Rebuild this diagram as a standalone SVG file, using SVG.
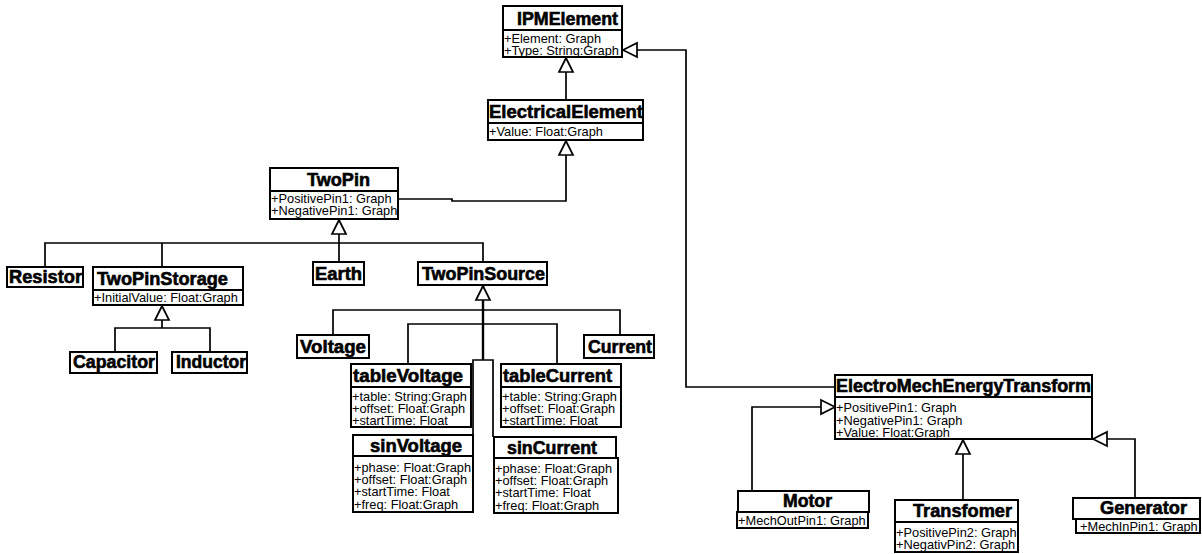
<svg xmlns="http://www.w3.org/2000/svg" width="1202" height="554" viewBox="0 0 1202 554">
  <style>
    .box { fill: #fff; stroke: #000; stroke-width: 2; }
    .hd { font-family: "Liberation Sans", Arial, sans-serif; font-weight: bold; font-size: 18px; fill: #000; stroke: #000; stroke-width: 0.6; }
    .at { font-family: "Liberation Sans", Arial, sans-serif; font-size: 12.8px; fill: #000; }
    .ln { fill: none; stroke: #000; stroke-width: 1.7; }
  </style>
  <defs>
    <!-- hollow generalization triangle -->
    <marker id="gen" viewBox="0 0 15 16" refX="15" refY="8" markerWidth="15" markerHeight="16" markerUnits="userSpaceOnUse" orient="auto" overflow="visible">
      <path d="M1,1 L15,8 L1,15 Z" fill="#fff" stroke="#000" stroke-width="1.7"/>
    </marker>
  </defs>
  <rect width="1202" height="554" fill="#fff"/>

  <g id="connectors">
    <!-- ElectricalElement -> IPMElement -->
    <path class="ln" d="M566,100 V58" marker-end="url(#gen)"/>
    <!-- TwoPin -> ElectricalElement -->
    <path class="ln" d="M398,199 H452 V201 H566 V141" marker-end="url(#gen)"/>
    <!-- TwoPin children -->
    <path class="ln" d="M339,262 V220" marker-end="url(#gen)"/>
    <path class="ln" d="M45,267 V243 H483 V262 M162,243 V267"/>
    <!-- TwoPinStorage children -->
    <path class="ln" d="M162,328 V306" marker-end="url(#gen)"/>
    <path class="ln" d="M115,352 V328 H210 V352"/>
    <!-- TwoPinSource children -->
    <path class="ln" d="M483,360 V286" marker-end="url(#gen)" style="stroke-width:2.4"/>
    <path class="ln" d="M333,335 V310 H620 V335"/>
    <path class="ln" d="M408,364 V324 H557 V364"/>
    <path class="ln" d="M473,435 V360 H493 V437"/>
    <!-- ElectroMechEnergyTransform -> IPMElement -->
    <path class="ln" d="M835,387 H686 V50 H623" marker-end="url(#gen)"/>
    <!-- Motor, Transfomer, Generator -> ElectroMechEnergyTransform -->
    <path class="ln" d="M752,491 V407 H835" marker-end="url(#gen)"/>
    <path class="ln" d="M963,500 V440" marker-end="url(#gen)"/>
    <path class="ln" d="M1135,498 V439 H1093" marker-end="url(#gen)"/>
  </g>

  <g id="IPMElement">
    <rect class="box" x="503" y="6" width="119" height="24"/>
    <rect class="box" x="503" y="30" width="119" height="27"/>
    <text class="hd" x="517" y="25" textLength="101" lengthAdjust="spacingAndGlyphs">IPMElement</text>
    <text class="at" x="504" y="42.5">+Element: Graph</text>
    <text class="at" x="504" y="54.5">+Type: String:Graph</text>
  </g>

  <g id="ElectricalElement">
    <rect class="box" x="488" y="100" width="155" height="23"/>
    <rect class="box" x="488" y="123" width="155" height="17"/>
    <text class="hd" x="489" y="118" textLength="154" lengthAdjust="spacingAndGlyphs">ElectricalElement</text>
    <text class="at" x="489" y="136">+Value: Float:Graph</text>
  </g>

  <g id="TwoPin">
    <rect class="box" x="270" y="168" width="128" height="23"/>
    <rect class="box" x="270" y="191" width="128" height="28"/>
    <text class="hd" x="307" y="186" textLength="63" lengthAdjust="spacingAndGlyphs">TwoPin</text>
    <text class="at" x="271" y="202.5">+PositivePin1: Graph</text>
    <text class="at" x="271" y="215">+NegativePin1: Graph</text>
  </g>

  <g id="Resistor">
    <rect class="box" x="7" y="267" width="76" height="20"/>
    <text class="hd" x="9" y="283" textLength="73" lengthAdjust="spacingAndGlyphs">Resistor</text>
  </g>

  <g id="TwoPinStorage">
    <rect class="box" x="93" y="267" width="150" height="23"/>
    <rect class="box" x="93" y="290" width="150" height="15"/>
    <text class="hd" x="97" y="285" textLength="131" lengthAdjust="spacingAndGlyphs">TwoPinStorage</text>
    <text class="at" x="94" y="302">+InitialValue: Float:Graph</text>
  </g>

  <g id="Capacitor">
    <rect class="box" x="70" y="352" width="87" height="21"/>
    <text class="hd" x="73" y="368" textLength="82" lengthAdjust="spacingAndGlyphs">Capacitor</text>
  </g>

  <g id="Inductor">
    <rect class="box" x="172" y="352" width="75" height="21"/>
    <text class="hd" x="176" y="368" textLength="70" lengthAdjust="spacingAndGlyphs">Inductor</text>
  </g>

  <g id="Earth">
    <rect class="box" x="313" y="262" width="51" height="23"/>
    <text class="hd" x="315" y="280" textLength="47" lengthAdjust="spacingAndGlyphs">Earth</text>
  </g>

  <g id="TwoPinSource">
    <rect class="box" x="418" y="262" width="129" height="23"/>
    <text class="hd" x="422" y="280" textLength="123" lengthAdjust="spacingAndGlyphs">TwoPinSource</text>
  </g>

  <g id="Voltage">
    <rect class="box" x="297" y="335" width="72" height="23"/>
    <text class="hd" x="300" y="353" textLength="66" lengthAdjust="spacingAndGlyphs">Voltage</text>
  </g>

  <g id="Current">
    <rect class="box" x="584" y="335" width="70" height="23"/>
    <text class="hd" x="588" y="353" textLength="64" lengthAdjust="spacingAndGlyphs">Current</text>
  </g>

  <g id="tableVoltage">
    <rect class="box" x="351" y="364" width="120" height="23"/>
    <rect class="box" x="351" y="387" width="120" height="40"/>
    <text class="hd" x="353" y="382" textLength="110" lengthAdjust="spacingAndGlyphs">tableVoltage</text>
    <text class="at" x="352" y="401">+table: String:Graph</text>
    <text class="at" x="352" y="413">+offset: Float:Graph</text>
    <text class="at" x="352" y="425">+startTime: Float</text>
  </g>

  <g id="tableCurrent">
    <rect class="box" x="501" y="364" width="120" height="23"/>
    <rect class="box" x="501" y="387" width="120" height="40"/>
    <text class="hd" x="503" y="382" textLength="109" lengthAdjust="spacingAndGlyphs">tableCurrent</text>
    <text class="at" x="502" y="401">+table: String:Graph</text>
    <text class="at" x="502" y="413">+offset: Float:Graph</text>
    <text class="at" x="502" y="425">+startTime: Float</text>
  </g>

  <g id="sinVoltage">
    <rect class="box" x="353" y="435" width="120" height="21"/>
    <rect class="box" x="353" y="456" width="120" height="56"/>
    <text class="hd" x="370" y="452" textLength="92" lengthAdjust="spacingAndGlyphs">sinVoltage</text>
    <text class="at" x="354" y="472">+phase: Float:Graph</text>
    <text class="at" x="354" y="484">+offset: Float:Graph</text>
    <text class="at" x="354" y="496">+startTime: Float</text>
    <text class="at" x="354" y="508.5">+freq: Float:Graph</text>
  </g>

  <g id="sinCurrent">
    <rect class="box" x="494" y="437" width="122" height="21"/>
    <rect class="box" x="494" y="458" width="124" height="55"/>
    <text class="hd" x="507" y="454" textLength="90" lengthAdjust="spacingAndGlyphs">sinCurrent</text>
    <text class="at" x="495" y="473">+phase: Float:Graph</text>
    <text class="at" x="495" y="485">+offset: Float:Graph</text>
    <text class="at" x="495" y="497">+startTime: Float</text>
    <text class="at" x="495" y="509.5">+freq: Float:Graph</text>
  </g>

  <g id="ElectroMechEnergyTransform">
    <rect class="box" x="835" y="375" width="257" height="22"/>
    <rect class="box" x="835" y="397" width="257" height="42"/>
    <text class="hd" x="836" y="392" textLength="255" lengthAdjust="spacingAndGlyphs">ElectroMechEnergyTransform</text>
    <text class="at" x="836" y="412">+PositivePin1: Graph</text>
    <text class="at" x="836" y="424.5">+NegativePin1: Graph</text>
    <text class="at" x="836" y="437">+Value: Float:Graph</text>
  </g>

  <g id="Motor">
    <rect class="box" x="738" y="491" width="131" height="21"/>
    <rect class="box" x="737" y="512" width="131" height="16"/>
    <text class="hd" x="783" y="507" textLength="49" lengthAdjust="spacingAndGlyphs">Motor</text>
    <text class="at" x="738" y="524.5">+MechOutPin1: Graph</text>
  </g>

  <g id="Transfomer">
    <rect class="box" x="895" y="500" width="123" height="22"/>
    <rect class="box" x="895" y="522" width="123" height="30"/>
    <text class="hd" x="913" y="517" textLength="99" lengthAdjust="spacingAndGlyphs">Transfomer</text>
    <text class="at" x="896" y="536.5">+PositivePin2: Graph</text>
    <text class="at" x="896" y="549">+NegativPin2: Graph</text>
  </g>

  <g id="Generator">
    <rect class="box" x="1073" y="498" width="127" height="21"/>
    <rect class="box" x="1076" y="519" width="124" height="14"/>
    <text class="hd" x="1100" y="514" textLength="87" lengthAdjust="spacingAndGlyphs">Generator</text>
    <text class="at" x="1080" y="530.5">+MechInPin1: Graph</text>
  </g>
</svg>
